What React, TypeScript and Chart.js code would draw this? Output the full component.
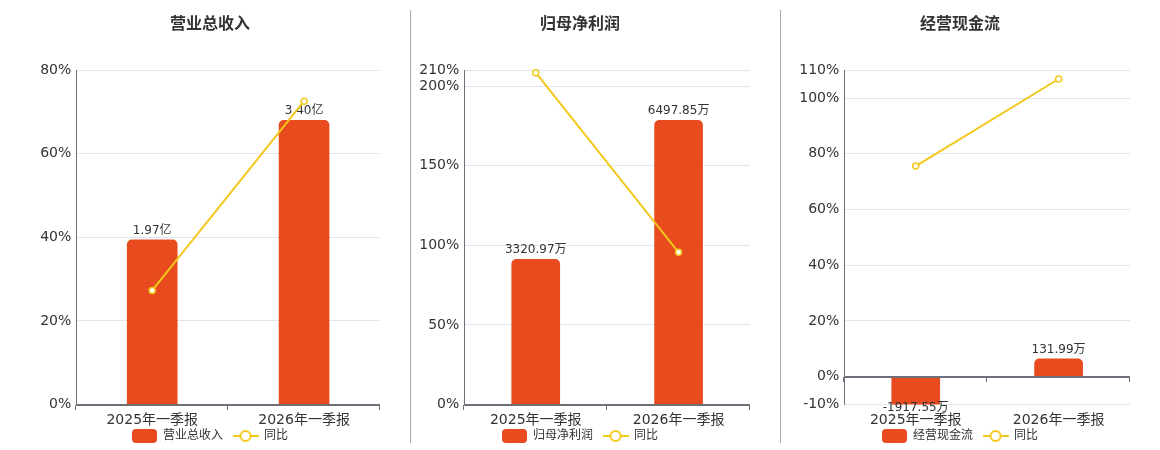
import React, { useEffect, useRef } from "react";
import { Chart, registerables } from "chart.js";

Chart.register(...registerables);

// ---------- data ----------
const categories = ["2025年一季报", "2026年一季报"];
const yoyLabel = "同比";

const revenueTitle = "营业总收入";
const revenueUnit = "亿";
const revenueValues = [1.97, 3.4];
const revenueYoY = [27.3, 72.6];
const revenueTicks = [0, 20, 40, 60, 80];

const profitTitle = "归母净利润";
const profitUnit = "万";
const profitValues = [3320.97, 6497.85];
const profitYoY = [208.5, 95.66];
const profitTicks = [0, 50, 100, 150, 200, 210];

const cashTitle = "经营现金流";
const cashUnit = "万";
const cashValues = [-1917.55, 131.99];
const cashYoY = [75.6, 106.88];
const cashTicks = [-10, 0, 20, 40, 60, 80, 100, 110];

// ---------- style ----------
const FONT = '"DejaVu Sans", "Noto Sans CJK SC", sans-serif';
const BAR = "#E84C1E";
const YEL = "#F2C81A";
const AXIS = "#6E7079";
const GRID = "#E0E6F1";
const TEXT = "#333333";

Chart.defaults.font.family = FONT;

const barLabelPlugin = {
  id: "barLabels",
  afterDatasetDraw(chart: any, args: any, opts: any) {
    if (args.index !== 0) return;
    const ctx = chart.ctx;
    const area = chart.chartArea;
    const ds = chart.data.datasets[0];
    ctx.save();
    ctx.font = `12px ${FONT}`;
    ctx.fillStyle = TEXT;
    ctx.textAlign = "center";
    ctx.textBaseline = "middle";
    args.meta.data.forEach((el: any, i: number) => {
      const v = ds.data[i] as number;
      const text = v.toFixed(2) + (opts.unit || "");
      const y = v >= 0 ? Math.max(el.y, area.top) - 9.5 : Math.min(el.y, area.bottom) + 3.5;
      ctx.fillText(text, el.x, y);
    });
    ctx.restore();
  },
};

const zeroAxisPlugin = {
  id: "zeroAxis",
  afterLayout(chart: any) {
    // let the category labels draw past the (deliberately short) x-axis box
    const x = chart.scales.x;
    x.bottom = x.top + 30;
  },
  afterDatasetsDraw(chart: any) {
    const { ctx, chartArea: a, scales } = chart;
    const y0 = Math.round(scales.y.getPixelForValue(0));
    ctx.save();
    ctx.strokeStyle = AXIS;
    ctx.lineWidth = 2;
    ctx.beginPath();
    ctx.moveTo(a.left, y0);
    ctx.lineTo(a.right, y0);
    ctx.stroke();
    ctx.lineWidth = 1;
    ctx.beginPath();
    const n = chart.data.labels.length;
    for (let i = 0; i <= n; i++) {
      const x = Math.round(a.left + ((a.right - a.left) * i) / n) - 0.5;
      ctx.moveTo(x, y0);
      ctx.lineTo(x, y0 + 5);
    }
    ctx.stroke();
    ctx.restore();
  },
};

function makeBarIcon(): HTMLCanvasElement {
  const c = document.createElement("canvas");
  c.width = 25;
  c.height = 14;
  const g = c.getContext("2d")!;
  g.fillStyle = BAR;
  const r = 4, w = 25, h = 14;
  g.beginPath();
  g.moveTo(r, 0);
  g.lineTo(w - r, 0);
  g.quadraticCurveTo(w, 0, w, r);
  g.lineTo(w, h - r);
  g.quadraticCurveTo(w, h, w - r, h);
  g.lineTo(r, h);
  g.quadraticCurveTo(0, h, 0, h - r);
  g.lineTo(0, r);
  g.quadraticCurveTo(0, 0, r, 0);
  g.fill();
  return c;
}

function makeLineIcon(): HTMLCanvasElement {
  const c = document.createElement("canvas");
  c.width = 26;
  c.height = 14;
  const g = c.getContext("2d")!;
  g.strokeStyle = YEL;
  g.lineWidth = 2;
  g.beginPath();
  g.moveTo(0, 7);
  g.lineTo(26, 7);
  g.stroke();
  g.beginPath();
  g.arc(13, 7, 5, 0, Math.PI * 2);
  g.fillStyle = "#fff";
  g.fill();
  g.stroke();
  return c;
}

type PanelCfg = {
  title: string;
  unit: string;
  values: number[];
  yoy: number[];
  ticks: number[];
  barMin: number;
  barMax: number;
  left: number;
  yWidth: number;
  barThickness: number;
};

const panels: PanelCfg[] = [
  {
    title: revenueTitle, unit: revenueUnit, values: revenueValues, yoy: revenueYoY, ticks: revenueTicks,
    barMin: 0, barMax: 4, left: 40, yWidth: 36.3, barThickness: 50,
  },
  {
    title: profitTitle, unit: profitUnit, values: profitValues, yoy: profitYoY, ticks: profitTicks,
    barMin: 0, barMax: 7644.5, left: 410, yWidth: 54.3, barThickness: 48,
  },
  {
    title: cashTitle, unit: cashUnit, values: cashValues, yoy: cashYoY, ticks: cashTicks,
    barMin: -207.5, barMax: 2282.5, left: 790, yWidth: 54.3, barThickness: 48,
  },
];

const CW = 350;
const CH = 452;

function Panel({ cfg }: { cfg: PanelCfg }) {
  const ref = useRef<HTMLCanvasElement>(null);
  useEffect(() => {
    const barIcon = makeBarIcon();
    const lineIcon = makeLineIcon();
    const tmin = Math.min(...cfg.ticks);
    const tmax = Math.max(...cfg.ticks);
    const chart = new Chart(ref.current!, {
      data: {
        labels: categories,
        datasets: [
          {
            type: "bar",
            label: cfg.title,
            data: cfg.values,
            yAxisID: "yb",
            backgroundColor: BAR,
            borderRadius: 5,
            borderSkipped: "start",
            barThickness: cfg.barThickness,
            order: 2,
          } as any,
          {
            type: "line",
            label: yoyLabel,
            data: cfg.yoy,
            yAxisID: "y",
            borderColor: YEL,
            borderWidth: 2,
            pointRadius: 3,
            pointBackgroundColor: "#fff",
            pointBorderColor: YEL,
            pointBorderWidth: 1.5,
            tension: 0,
            clip: false,
            order: 1,
          } as any,
        ],
      },
      options: {
        responsive: false,
        animation: false,
        layout: { padding: { left: 0, right: 10, top: 0, bottom: 0 } },
        scales: {
          x: {
            type: "category",
            offset: true,
            grid: { display: false, drawTicks: false },
            border: { display: false },
            ticks: { font: { size: 14, family: FONT }, color: TEXT, padding: 7, maxRotation: 0, autoSkip: false },
            afterFit: (s: any) => { s.height = 15.5; },
          },
          y: {
            type: "linear",
            position: "left",
            min: tmin,
            max: tmax,
            afterBuildTicks: (s: any) => { s.ticks = cfg.ticks.map((v) => ({ value: v })); },
            afterFit: (s: any) => { s.width = cfg.yWidth; },
            ticks: {
              callback: (v: any) => v + "%",
              font: { size: 14, family: FONT },
              color: TEXT,
              padding: 5,
              autoSkip: false,
            },
            grid: { color: GRID, drawTicks: false },
            border: { display: true, color: AXIS, width: 1 },
          },
          yb: {
            type: "linear",
            position: "right",
            display: false,
            min: cfg.barMin,
            max: cfg.barMax,
          },
        },
        plugins: {
          title: {
            display: true,
            text: cfg.title,
            color: TEXT,
            font: { size: 16, weight: "bold", family: FONT },
            padding: { top: 15, bottom: 36.1 },
          },
          legend: {
            position: "bottom",
            labels: {
              usePointStyle: true,
              pointStyleWidth: 25,
              boxHeight: 12,
              padding: 10,
              color: TEXT,
              font: { size: 12, family: FONT },
              generateLabels: () => [
                { text: cfg.title, pointStyle: barIcon, fillStyle: BAR, strokeStyle: BAR, lineWidth: 0, hidden: false, datasetIndex: 0, fontColor: TEXT } as any,
                { text: yoyLabel, pointStyle: lineIcon, fillStyle: "#fff", strokeStyle: YEL, lineWidth: 0, hidden: false, datasetIndex: 1, fontColor: TEXT } as any,
              ],
            },
          },
          tooltip: { enabled: false },
          barLabels: { unit: cfg.unit },
        } as any,
      },
      plugins: [barLabelPlugin, zeroAxisPlugin],
    } as any);
    return () => chart.destroy();
  }, [cfg]);
  return (
    <canvas
      ref={ref}
      width={CW}
      height={CH}
      style={{ position: "absolute", left: cfg.left, top: 0, width: CW, height: CH }}
    />
  );
}

export default function App() {
  return (
    <div
      style={{
        position: "fixed",
        left: 0,
        top: 0,
        width: 1160,
        height: 450,
        overflow: "hidden",
        background: "#fff",
      }}
    >
      {panels.map((p, i) => (
        <Panel key={i} cfg={p} />
      ))}
      <div style={{ position: "absolute", left: 410, top: 10, width: 1, height: 433, background: "#A8A8A8" }} />
      <div style={{ position: "absolute", left: 780, top: 10, width: 1, height: 433, background: "#A8A8A8" }} />
    </div>
  );
}
